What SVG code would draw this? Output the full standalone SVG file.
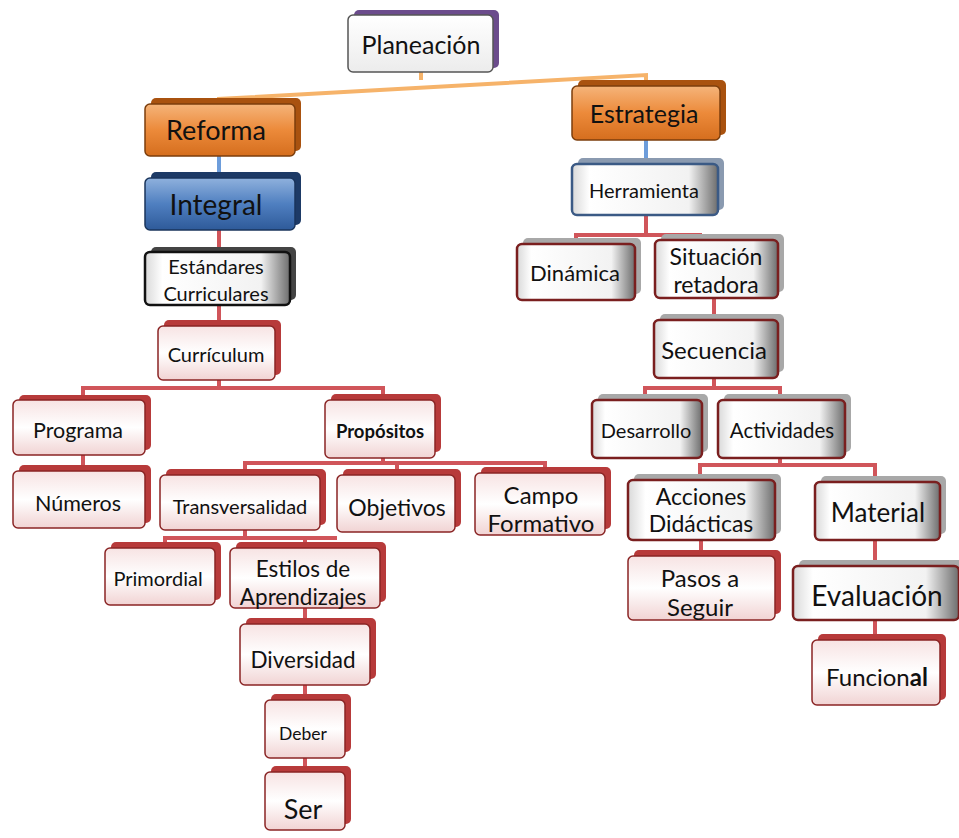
<svg xmlns="http://www.w3.org/2000/svg" width="959" height="838" viewBox="0 0 959 838">
<defs>
<linearGradient id="gRed" x1="0" y1="0" x2="0" y2="1"><stop offset="0" stop-color="#f7e3e3"/><stop offset="0.5" stop-color="#ffffff"/><stop offset="1" stop-color="#f1d3d3"/></linearGradient>
<linearGradient id="gSilver" x1="0" y1="0" x2="1" y2="0"><stop offset="0" stop-color="#d9d9d9"/><stop offset="0.12" stop-color="#ffffff"/><stop offset="0.8" stop-color="#f2f2f2"/><stop offset="1" stop-color="#6d6d6d"/></linearGradient>
<linearGradient id="gOrange" x1="0" y1="0" x2="0" y2="1"><stop offset="0" stop-color="#f5b47a"/><stop offset="0.5" stop-color="#ec8a3a"/><stop offset="1" stop-color="#d56e1e"/></linearGradient>
<linearGradient id="gBlue" x1="0" y1="0" x2="0" y2="1"><stop offset="0" stop-color="#8fb1dd"/><stop offset="0.5" stop-color="#4f7fc0"/><stop offset="1" stop-color="#2e5a99"/></linearGradient>
<linearGradient id="gWhite" x1="0" y1="0" x2="0" y2="1"><stop offset="0" stop-color="#ffffff"/><stop offset="1" stop-color="#ececec"/></linearGradient>
</defs>
<style>
text{font-family:Lato,"Open Sans","Liberation Sans",sans-serif;fill:#111;text-anchor:middle;dominant-baseline:central}
.back{stroke:none}
.red .back{fill:#b73a3a}
.red .face{fill:url(#gRed);stroke:#8a2525;stroke-width:1.5}
.silver .back{fill:#a8a8a8}
.silver .face{fill:url(#gSilver);stroke:#7a1f1f;stroke-width:2.5}
.orange .back{fill:#a9520f}
.orange .face{fill:url(#gOrange);stroke:#7c3e0c;stroke-width:1.5}
.blue .back{fill:#1d3a66}
.blue .face{fill:url(#gBlue);stroke:#1a355c;stroke-width:1.5}
.plain .back{fill:#6b4c8c}
.plain .face{fill:url(#gWhite);stroke:#555;stroke-width:1.5}
.dark .back{fill:#444}
.dark .face{fill:url(#gSilver);stroke:#111;stroke-width:2.5}
.herr .back{fill:#8a9ab0}
.herr .face{fill:url(#gSilver);stroke:#3b5a85;stroke-width:2.5}
.c{fill:none;stroke-width:4}
.co{stroke:#f6b36a}
.cb{stroke:#6d9ddb}
.cr{stroke:#d0555a}
</style>
<g id="connectors">
<path class="c co" d="M421,72 V80 M219,104 V99 L646,75 V86"/>
<path class="c cb" d="M219,155 V178 M646,140 V164"/>
<path class="c cr" d="M219,230 V252 M219,305 V326 M219,380 V388 M83,400 V388 H383 V400 M83,455 V471"/>
<path class="c cr" d="M383,458 V463 M245,475 V463 H545 V473 M397,463 V475"/>
<path class="c cr" d="M245,530 V538 M165,548 V538 H337 M305,538 V548 M305,608 V624 M305,685 V700 M305,758 V772"/>
<path class="c cr" d="M646,215 V235 M576,246 V235 H700 V240 M714,298 V320 M714,378 V388 M645,400 V388 H780 V400"/>
<path class="c cr" d="M780,458 V465 M700,480 V465 H875 V482 M701,540 V556 M875,540 V566 M875,620 V640"/>
</g>
<g id="planeacion" class="plain"><rect class="back" x="354" y="10" width="145" height="58" rx="5"/><rect class="face" x="348" y="15" width="145" height="57" rx="5"/><text x="421" y="44" font-size="25">Planeación</text></g>
<g id="reforma" class="orange"><rect class="back" x="151" y="98" width="150" height="53" rx="5"/><rect class="face" x="145" y="104" width="150" height="52" rx="5"/><text x="216" y="129" font-size="27">Reforma</text></g>
<g id="integral" class="blue"><rect class="back" x="151" y="172" width="150" height="53" rx="5"/><rect class="face" x="145" y="178" width="150" height="52" rx="5"/><text x="216" y="204" font-size="28">Integral</text></g>
<g id="estrategia" class="orange"><rect class="back" x="578" y="80" width="148" height="55" rx="5"/><rect class="face" x="572" y="86" width="148" height="54" rx="5"/><text x="644" y="113" font-size="25">Estrategia</text></g>
<g id="herramienta" class="herr"><rect class="back" x="578" y="158" width="146" height="52" rx="5"/><rect class="face" x="572" y="164" width="146" height="51" rx="5"/><text x="644" y="190" font-size="20">Herramienta</text></g>
<g id="dinamica" class="silver"><rect class="back" x="523" y="238" width="118" height="56" rx="5"/><rect class="face" x="517" y="244" width="118" height="56" rx="5"/><text x="575" y="272" font-size="22">Dinámica</text></g>
<g id="situacion" class="silver"><rect class="back" x="661" y="234" width="123" height="58" rx="5"/><rect class="face" x="655" y="240" width="123" height="58" rx="5"/><text x="716" y="256" font-size="23">Situación</text><text x="716" y="284" font-size="23">retadora</text></g>
<g id="secuencia" class="silver"><rect class="back" x="660" y="314" width="124" height="58" rx="5"/><rect class="face" x="654" y="320" width="124" height="58" rx="5"/><text x="714" y="349" font-size="24">Secuencia</text></g>
<g id="desarrollo" class="silver"><rect class="back" x="598" y="394" width="110" height="58" rx="5"/><rect class="face" x="592" y="400" width="110" height="58" rx="5"/><text x="646" y="430" font-size="20">Desarrollo</text></g>
<g id="actividades" class="silver"><rect class="back" x="724" y="394" width="127" height="58" rx="5"/><rect class="face" x="718" y="400" width="127" height="58" rx="5"/><text x="782" y="430" font-size="20.5">Actividades</text></g>
<g id="acciones" class="silver"><rect class="back" x="634" y="474" width="147" height="60" rx="5"/><rect class="face" x="628" y="480" width="147" height="60" rx="5"/><text x="701" y="496" font-size="23">Acciones</text><text x="701" y="523" font-size="23">Didácticas</text></g>
<g id="material" class="silver"><rect class="back" x="821" y="476" width="125" height="58" rx="5"/><rect class="face" x="815" y="482" width="125" height="58" rx="5"/><text x="878" y="512" font-size="26">Material</text></g>
<g id="pasos" class="red"><rect class="back" x="634" y="550" width="147" height="64" rx="5"/><rect class="face" x="628" y="556" width="147" height="64" rx="5"/><text x="700" y="577" font-size="24">Pasos a</text><text x="700" y="606" font-size="24">Seguir</text></g>
<g id="evaluacion" class="silver"><rect class="back" x="799" y="560" width="166" height="55" rx="5"/><rect class="face" x="793" y="566" width="166" height="54" rx="5"/><text x="877" y="595" font-size="28">Evaluación</text></g>
<g id="funcional" class="red"><rect class="back" x="818" y="634" width="128" height="66" rx="5"/><rect class="face" x="812" y="640" width="128" height="65" rx="5"/><text x="877" y="676" font-size="24">Funcion<tspan font-weight="bold">al</tspan></text></g>
<g id="estandares" class="dark"><rect class="back" x="151" y="247" width="145" height="53" rx="5"/><rect class="face" x="145" y="252" width="145" height="53" rx="5"/><text x="216" y="266" font-size="20">Estándares</text><text x="216" y="293" font-size="20">Curriculares</text></g>
<g id="curriculum" class="red"><rect class="back" x="164" y="320" width="117" height="55" rx="5"/><rect class="face" x="158" y="326" width="117" height="54" rx="5"/><text x="216" y="354" font-size="20">Currículum</text></g>
<g id="programa" class="red"><rect class="back" x="19" y="395" width="132" height="55" rx="5"/><rect class="face" x="13" y="400" width="132" height="55" rx="5"/><text x="78" y="430" font-size="21.5">Programa</text></g>
<g id="propositos" class="red"><rect class="back" x="331" y="394" width="110" height="58" rx="5"/><rect class="face" x="325" y="400" width="110" height="58" rx="5"/><text x="380" y="431" font-size="18.5" font-weight="bold">Propósitos</text></g>
<g id="numeros" class="red"><rect class="back" x="19" y="465" width="132" height="58" rx="5"/><rect class="face" x="13" y="471" width="132" height="57" rx="5"/><text x="78" y="503" font-size="21.5">Números</text></g>
<g id="transversalidad" class="red"><rect class="back" x="166" y="469" width="160" height="56" rx="5"/><rect class="face" x="160" y="475" width="160" height="55" rx="5"/><text x="240" y="506" font-size="20">Transversalidad</text></g>
<g id="objetivos" class="red"><rect class="back" x="343" y="469" width="118" height="58" rx="5"/><rect class="face" x="337" y="475" width="118" height="57" rx="5"/><text x="397" y="507" font-size="23">Objetivos</text></g>
<g id="campo" class="red"><rect class="back" x="481" y="467" width="130" height="62" rx="5"/><rect class="face" x="475" y="473" width="130" height="62" rx="5"/><text x="541" y="494" font-size="24">Campo</text><text x="541" y="522" font-size="24">Formativo</text></g>
<g id="primordial" class="red"><rect class="back" x="111" y="542" width="110" height="58" rx="5"/><rect class="face" x="105" y="548" width="110" height="57" rx="5"/><text x="158" y="578" font-size="20">Primordial</text></g>
<g id="estilos" class="red"><rect class="back" x="236" y="542" width="150" height="60" rx="5"/><rect class="face" x="230" y="548" width="150" height="60" rx="5"/><text x="303" y="568" font-size="22.5">Estilos de</text><text x="303" y="596" font-size="22.5">Aprendizajes</text></g>
<g id="diversidad" class="red"><rect class="back" x="246" y="618" width="130" height="61" rx="5"/><rect class="face" x="240" y="624" width="130" height="61" rx="5"/><text x="303" y="659" font-size="22.5">Diversidad</text></g>
<g id="deber" class="red"><rect class="back" x="271" y="694" width="80" height="58" rx="5"/><rect class="face" x="265" y="700" width="80" height="58" rx="5"/><text x="303" y="733" font-size="17.5">Deber</text></g>
<g id="ser" class="red"><rect class="back" x="271" y="766" width="80" height="58" rx="5"/><rect class="face" x="265" y="772" width="80" height="58" rx="5"/><text x="303" y="808" font-size="27">Ser</text></g>
</svg>
